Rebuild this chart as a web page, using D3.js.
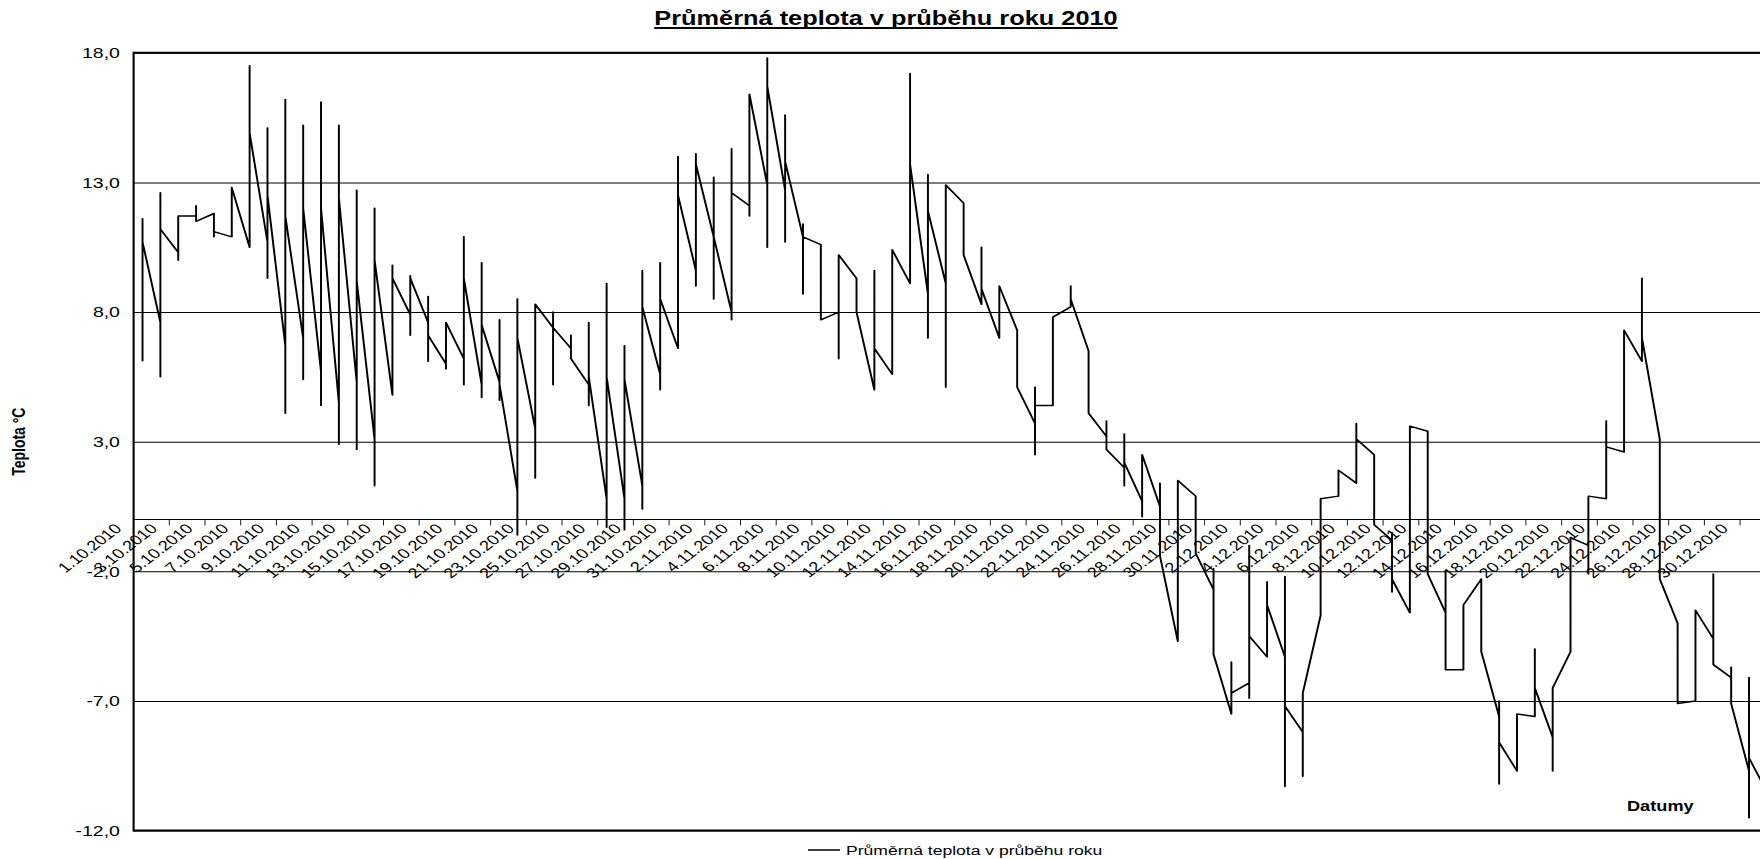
<!DOCTYPE html>
<html><head><meta charset="utf-8">
<script src="https://cdn.jsdelivr.net/npm/d3@7"></script>
<style>body{margin:0;background:#fff}svg{display:block}</style>
</head><body><svg id="c" width="1760" height="859"></svg>
<script>
const days = ["1.10.2010","2.10.2010","3.10.2010","4.10.2010","5.10.2010","6.10.2010","7.10.2010","8.10.2010","9.10.2010","10.10.2010",
"11.10.2010","12.10.2010","13.10.2010","14.10.2010","15.10.2010","16.10.2010","17.10.2010","18.10.2010","19.10.2010","20.10.2010",
"21.10.2010","22.10.2010","23.10.2010","24.10.2010","25.10.2010","26.10.2010","27.10.2010","28.10.2010","29.10.2010","30.10.2010","31.10.2010",
"1.11.2010","2.11.2010","3.11.2010","4.11.2010","5.11.2010","6.11.2010","7.11.2010","8.11.2010","9.11.2010","10.11.2010",
"11.11.2010","12.11.2010","13.11.2010","14.11.2010","15.11.2010","16.11.2010","17.11.2010","18.11.2010","19.11.2010","20.11.2010",
"21.11.2010","22.11.2010","23.11.2010","24.11.2010","25.11.2010","26.11.2010","27.11.2010","28.11.2010","29.11.2010","30.11.2010",
"1.12.2010","2.12.2010","3.12.2010","4.12.2010","5.12.2010","6.12.2010","7.12.2010","8.12.2010","9.12.2010","10.12.2010",
"11.12.2010","12.12.2010","13.12.2010","14.12.2010","15.12.2010","16.12.2010","17.12.2010","18.12.2010","19.12.2010","20.12.2010",
"21.12.2010","22.12.2010","23.12.2010","24.12.2010","25.12.2010","26.12.2010","27.12.2010","28.12.2010","29.12.2010","30.12.2010","31.12.2010"];

// readings per day: first reading, lowest, highest, last reading
const tFirst = [6.1,7.6,10.3,11.7,11.8,10.9,10.5,10.7,6.7,7.0, 5.7,4.5,5.3,3.1,4.8,7.9,7.6,6.0,6.2,5.2, 5.3,1.1,3.5,7.4,6.6,5.2,0.8,0.8,1.3,5.6,6.6,
 9.6,10.9,8.0,12.1,12.9,12.7,10.9,10.6,8.0,9.3, 5.0,5.6,9.1,8.7,9.1,12.2,8.3,7.0,7.3,3.7, 4.4,8.2,6.5,3.2,2.0,0.7,0.5,-4.7,0.9,
 -2.7,-7.5,-6.3,-5.3,-5.3,-8.2,-3.7,0.9,1.4,2.5, -0.8,-3.6,3.4,-3.6,-5.8,-2.3,-7.6,-9.7,-7.6,-8.4, -5.1,-1.0,0.8,2.6,6.1,3.1,-4.0,-7.0,-4.6,-6.1,-9.7,-10.5];
const tLow = [6.1,5.5,10.0,11.5,10.9,10.9,10.5,9.3,4.1,5.4, 4.4,2.9,2.7,1.3,4.8,7.1,6.1,5.8,5.2,4.7, 4.6,-0.6,1.6,5.2,6.2,4.4,-0.3,-0.4,0.4,5.0,6.6,
 9.0,8.5,7.7,11.7,10.5,10.7,8.7,7.7,6.2,8.0, 5.0,5.6,9.1,7.0,5.1,10.2,8.3,7.0,5.1,2.5, 4.4,8.2,4.1,2.7,1.3,0.1,-1.4,-4.7,-1.3,
 -5.2,-7.5,-6.9,-5.3,-10.3,-9.9,-3.7,0.9,1.4,-0.2, -2.8,-3.6,-2.1,-5.8,-5.8,-5.1,-10.2,-9.7,-7.6,-9.7, -5.1,-2.1,0.8,2.6,6.1,-2.3,-7.1,-7.0,-5.6,-7.1,-11.5,-10.5];
const tHigh = [11.6,12.6,11.7,12.1,11.8,12.8,17.5,15.1,16.2,15.2, 16.1,15.2,12.7,12.0,9.8,9.4,8.6,7.6,10.9,9.9, 7.7,8.5,8.3,8.0,7.1,7.6,9.1,6.7,9.6,9.9,14.0,
 14.1,13.2,14.3,16.4,17.8,15.6,11.4,10.6,10.2,9.3, 9.6,10.4,17.2,13.3,12.9,12.2,10.5,9.0,7.3,5.1, 7.8,9.0,6.5,3.8,3.3,2.5,1.4,1.5,0.9,
 -1.9,-5.5,-1.0,-2.4,-2.2,-6.7,0.8,1.9,3.7,2.5, -0.5,3.6,3.4,-2.0,-3.3,-2.3,-7.0,-7.5,-5.0,-6.5, -0.7,0.9,3.8,7.3,9.3,3.1,-4.0,-3.5,-2.1,-5.7,-6.1,-10.5];
const tLast = [10.7,11.2,11.7,11.5,11.1,12.8,14.9,12.5,11.7,12.0, 12.0,12.4,9.2,10.0,9.3,9.3,7.1,7.6,9.3,7.5, 5.2,7.0,8.3,7.4,6.2,5.5,5.5,5.4,8.2,8.5,12.5,
 13.7,10.9,12.6,16.4,16.7,13.8,10.9,7.7,10.2,8.0, 6.6,10.4,13.7,11.9,12.9,10.2,8.9,9.0,5.1,4.4, 7.8,8.5,4.1,2.7,2.2,2.5,-1.4,1.5,-1.3,
 -5.2,-6.7,-4.5,-3.3,-7.2,-6.7,0.8,1.9,3.1,-0.2, -2.3,3.6,-2.1,-5.8,-3.3,-5.1,-8.6,-7.5,-6.5,-6.5, -0.7,0.9,2.8,7.3,7.0,-2.3,-7.1,-3.5,-5.6,-7.1,-9.2,-10.5];

const yTicks = [18, 13, 8, 3, -2, -7, -12];
const chartTitle = "Průměrná teplota v průběhu roku 2010";
const seriesName = "Průměrná teplota v průběhu roku";
const yTitle = "Teplota °C";
const xTitle = "Datumy";

const S = 1.3;               // horizontal stretch of the whole picture
const W = 1760, H = 859;
const FONT = '"Liberation Sans", Arial, sans-serif';
const pLeft = 133.6 / S, bw = 17.85 / S;
const pRight = pLeft + days.length * bw;
const pTop = 52.75, pBottom = 830.6;

const x = d3.scaleBand().domain(days).range([pLeft, pRight]).padding(0);
const y = d3.scaleLinear().domain([-12, 18]).range([pBottom, pTop]);

const svg = d3.select('#c');
svg.append('rect').attr('width', W).attr('height', H).attr('fill', '#fff');
const g = svg.append('g').attr('transform', `scale(${S},1)`).attr('font-family', FONT);

// y axis with gridlines
const fmt = d => d3.format('.1f')(d).replace('.', ',').replace('\u2212', '-');
const ga = g.append('g').attr('transform', `translate(${pLeft},0)`)
  .call(d3.axisLeft(y).tickValues(yTicks).tickSize(-(pRight - pLeft)).tickPadding(10.5).tickFormat(fmt));
ga.attr('font-family', FONT).attr('font-size', 15);
ga.select('.domain').remove();
ga.selectAll('.tick line').attr('stroke', '#000').attr('stroke-width', 1);
ga.selectAll('.tick text').attr('fill', '#000');

// x axis at 0
const y0 = y(0);
g.append('line').attr('x1', pLeft).attr('x2', pRight).attr('y1', y0).attr('y2', y0)
  .attr('stroke', '#000').attr('stroke-width', 1);
const labelled = days.filter((d, i) => i % 2 === 0);
g.append('g').selectAll('line').data(labelled).join('line')
  .attr('x1', d => x(d)).attr('x2', d => x(d)).attr('y1', y0).attr('y2', y0 + 6)
  .attr('stroke', '#000').attr('stroke-width', 1 / S);
g.append('g').selectAll('text').data(labelled).join('text')
  .attr('transform', d => `translate(${x(d) - 11 / S},${y0 + 10}) rotate(-45)`)
  .attr('text-anchor', 'end').attr('font-size', 14).attr('fill', '#000').text(d => d);

// plot frame
g.append('line').attr('x1', pLeft).attr('x2', pRight).attr('y1', pTop).attr('y2', pTop).attr('stroke', '#000').attr('stroke-width', 2);
g.append('line').attr('x1', pLeft).attr('x2', pRight).attr('y1', pBottom).attr('y2', pBottom).attr('stroke', '#000').attr('stroke-width', 2);
g.append('line').attr('x1', pLeft).attr('x2', pLeft).attr('y1', pTop - 1).attr('y2', pBottom + 1).attr('stroke', '#000').attr('stroke-width', 1.6);

// data line
const pts = [];
days.forEach((d, i) => {
  const cx = x(d) + x.bandwidth() / 2;
  [tFirst[i], tLow[i], tHigh[i], tLast[i]].forEach(v => pts.push([cx, v]));
});
g.append('path').datum(pts)
  .attr('d', d3.line().x(p => p[0]).y(p => y(p[1])))
  .attr('fill', 'none').attr('stroke', '#000').attr('stroke-width', 1.5).attr('stroke-linejoin', 'round');

// titles
const tt = g.append('text').attr('x', 886 / S).attr('y', 25).attr('text-anchor', 'middle')
  .attr('font-size', 19.5).attr('font-weight', 'bold').attr('fill', '#000').text(chartTitle);
const tl = tt.node().getComputedTextLength();
g.append('line').attr('x1', 886 / S - tl / 2).attr('x2', 886 / S + tl / 2).attr('y1', 28).attr('y2', 28)
  .attr('stroke', '#000').attr('stroke-width', 1.8);

g.append('text').attr('transform', `translate(${19 / S},${(pTop + pBottom) / 2}) rotate(-90)`)
  .attr('text-anchor', 'middle').attr('dy', '0.35em').attr('font-size', 14).attr('font-weight', 'bold')
  .attr('fill', '#000').text(yTitle);

g.append('text').attr('x', 1627 / S).attr('y', 811).attr('font-size', 14).attr('font-weight', 'bold')
  .attr('fill', '#000').text(xTitle);

// legend
g.append('line').attr('x1', 808 / S).attr('x2', 840 / S).attr('y1', 850).attr('y2', 850).attr('stroke', '#000').attr('stroke-width', 1.5);
g.append('text').attr('x', 846 / S).attr('y', 850).attr('dy', '0.35em').attr('font-size', 13.5).attr('fill', '#000').text(seriesName);
</script></body></html>
